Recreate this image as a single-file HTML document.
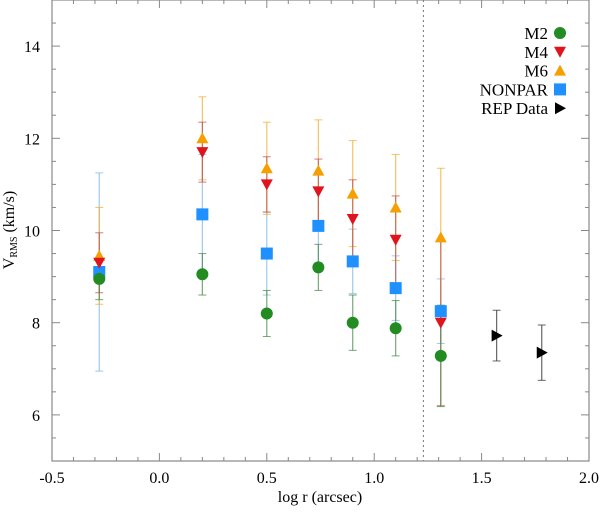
<!DOCTYPE html>
<html><head><meta charset="utf-8"><style>
body{margin:0;background:#fff}
svg{font-family:"Liberation Serif",serif}
</style></head><body>
<svg width="600" height="509" id="c">
</svg>
<script>
const xCats=[-0.28,0.2,0.5,0.74,0.9,1.1,1.31];
const m2=[8.95,9.05,8.2,9.2,8.0,7.88,7.28];
const m2Err=[0.45,0.45,0.5,0.5,0.6,0.6,1.1];
const m4=[9.3,11.7,11.0,10.85,10.25,9.8,8.0];
const m4Err=[0.65,0.65,0.6,0.7,0.85,0.95,1.8];
const m6=[9.45,12.0,11.35,11.3,10.8,10.5,9.85];
const m6Err=[1.05,0.9,1.0,1.1,1.15,1.15,1.5];
const np=[9.1,10.35,9.5,10.1,9.33,8.75,8.25];
const npErr=[2.15,1.3,0.9,0.8,0.7,0.7,0.7];
const repX=[1.57,1.78];
const repY=[7.72,7.35];
const repErr=[0.55,0.6];
const xTicks=["-0.5","0.0","0.5","1.0","1.5","2.0"];
const yTicks=["6","8","10","12","14"];

const L=52,R=589,T=0,B=461;
const X=v=>L+(v+0.5)*(R-L)/2.5;
const Y=v=>B-(v-5)*(B-T)/10;
const svg=document.getElementById('c');
const NS='http://www.w3.org/2000/svg';
function mk(tag,at,parent){const e=document.createElementNS(NS,tag);for(const k in at)e.setAttribute(k,at[k]);(parent||svg).appendChild(e);return e;}

// frame
let f=mk('rect',{x:L,y:T,width:R-L,height:B-T,fill:'none',stroke:'#888','stroke-width':1.2});


// ticks
for(let i=0;i<=25;i++){const v=-0.5+i*0.1,x=X(v),len=(i%5==0)?8:4;
 mk('line',{x1:x,y1:B,x2:x,y2:B-len,stroke:'#888'});mk('line',{x1:x,y1:T,x2:x,y2:T+len,stroke:'#888'});}
for(let i=0;i<=20;i++){const v=5+i*0.5,y=Y(v),len=(i%4==2)?8:4;
 mk('line',{x1:L,y1:y,x2:L+len,y2:y,stroke:'#888'});mk('line',{x1:R,y1:y,x2:R-len,y2:y,stroke:'#888'});}
xTicks.forEach(t=>{const e=mk('text',{x:X(parseFloat(t)),y:B+22,'font-size':16,'text-anchor':'middle'});e.textContent=t;
 
 });
yTicks.forEach(t=>{const e=mk('text',{x:L-12,y:Y(parseFloat(t))+6,'font-size':16,'text-anchor':'end'});e.textContent=t;
 
 });
let xt=mk('text',{x:320,y:502,'font-size':16,'text-anchor':'middle'});xt.textContent='log r (arcsec)';


let yt=mk('text',{transform:'translate(14,230) rotate(-90)','font-size':16,'text-anchor':'middle'});
yt.innerHTML='V<tspan font-size="10" dy="3">RMS</tspan><tspan dy="-3"> (km/s)</tspan>';


// dotted line
let dl=mk('line',{x1:X(1.229),y1:T,x2:X(1.229),y2:B,stroke:'#777','stroke-dasharray':'2,3'});



function marker(kind,x,y,col,name){let e;
 if(kind=='c')e=mk('circle',{cx:x,cy:y,r:6,fill:col});
 else if(kind=='s')e=mk('rect',{x:x-6,y:y-6,width:12,height:12,fill:col});
 else if(kind=='d')e=mk('polygon',{points:`${x-6},${y-5} ${x+6},${y-5} ${x},${y+6}`,fill:col});
 else if(kind=='u')e=mk('polygon',{points:`${x-6},${y+5} ${x+6},${y+5} ${x},${y-6}`,fill:col});
 else e=mk('polygon',{points:`${x-5},${y-6} ${x-5},${y+6} ${x+6},${y}`,fill:col});
 
 }
function errbar(x,v,er,col){const y1=Y(v-er),y2=Y(v+er);
 mk('line',{x1:x,y1:y1,x2:x,y2:y2,stroke:col,'stroke-width':1.2,opacity:0.75});
 mk('line',{x1:x-4,y1:y1,x2:x+4,y2:y1,stroke:col,opacity:0.75});
 mk('line',{x1:x-4,y1:y2,x2:x+4,y2:y2,stroke:col,opacity:0.75});}
const series=[[np,npErr,'#7fb8e8','#1e90ff','s','nonpar-point'],[m6,m6Err,'#f0b030','#f5a000','u','m6-point'],
 [m4,m4Err,'#c05050','#e0141c','d','m4-point'],[m2,m2Err,'#4a8a4a','#228b22','c','m2-point']];
series.forEach(s=>xCats.forEach((xv,i)=>errbar(X(xv),s[0][i],s[1][i],s[2])));
repX.forEach((xv,i)=>errbar(X(xv),repY[i],repErr[i],'#333'));
series.forEach(s=>xCats.forEach((xv,i)=>marker(s[4],X(xv),Y(s[0][i]),s[3],s[5])));
repX.forEach((xv,i)=>marker('r',X(xv),Y(repY[i]),'#000','rep-data-point'));
// legend
const leg=[['M2','c','#228b22'],['M4','d','#e0141c'],['M6','u','#f5a000'],['NONPAR','s','#1e90ff'],['REP Data','r','#000']];
leg.forEach((l,i)=>{const y=33+i*18.8;const t=mk('text',{x:548,y:y+6,'font-size':17,'text-anchor':'end'});t.textContent=l[0];
 
 
 marker(l[1],560,y,l[2],'legend-marker');});
</script>
</body></html>
